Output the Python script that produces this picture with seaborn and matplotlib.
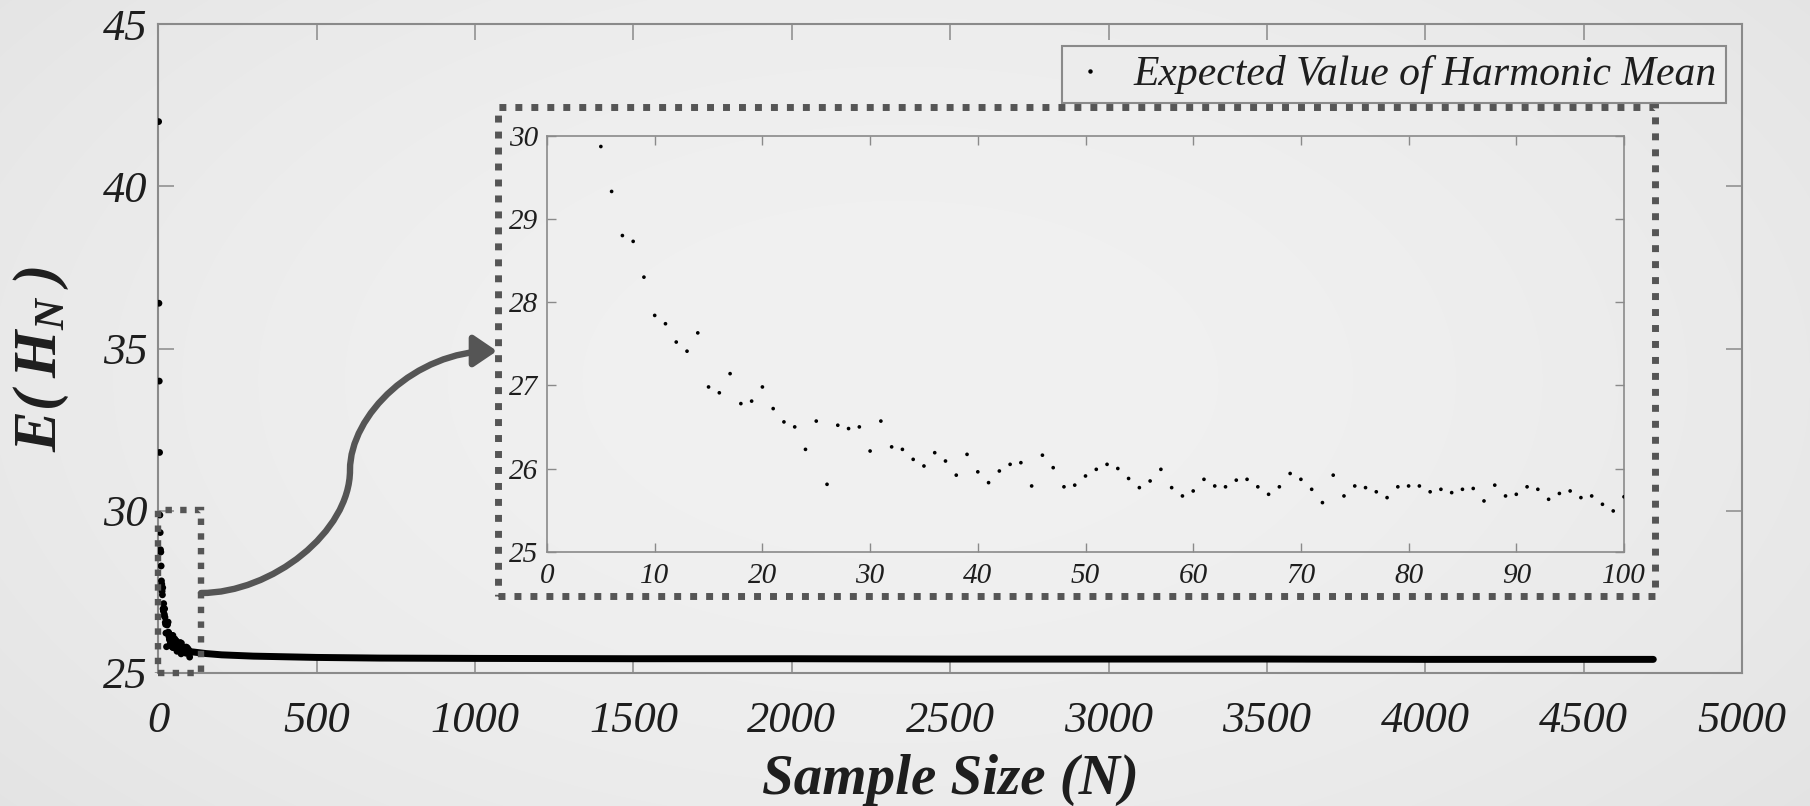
import numpy as np
import pandas as pd
import matplotlib
matplotlib.use("Agg")
import matplotlib.pyplot as plt
import seaborn as sns
from matplotlib.patches import Rectangle, FancyArrowPatch
from matplotlib.path import Path
from matplotlib.lines import Line2D

sns.set_theme(style="white")
plt.rcParams['font.family'] = ['Liberation Serif', 'DejaVu Serif']
plt.rcParams['font.style'] = 'italic'
plt.rcParams['mathtext.fontset'] = 'custom'
plt.rcParams['mathtext.rm'] = 'Liberation Serif:bold:italic'
plt.rcParams['mathtext.it'] = 'Liberation Serif:bold:italic'
plt.rcParams['mathtext.bf'] = 'Liberation Serif:bold:italic'

# ---------------- data ----------------
sample_n = list(range(1, 101))
expected_hm = [
    42.0, 36.4, 34.0, 31.8,
    29.87, 29.33, 28.80, 28.73, 28.30, 27.84, 27.74, 27.52, 27.41, 27.63,
    26.98, 26.91, 27.14, 26.78, 26.81, 26.98, 26.72, 26.56, 26.50, 26.23,
    26.57, 25.81, 26.52, 26.48, 26.50, 26.21, 26.57, 26.26, 26.23, 26.11,
    26.03, 26.19, 26.09, 25.92, 26.17, 25.96, 25.83, 25.97, 26.05, 26.07,
    25.79, 26.16, 26.01, 25.78, 25.80, 25.91, 25.99, 26.05, 26.00, 25.88,
    25.77, 25.85, 25.99, 25.77, 25.67, 25.73, 25.87, 25.79, 25.78, 25.86,
    25.87, 25.78, 25.69, 25.78, 25.94, 25.87, 25.75, 25.59, 25.92, 25.67,
    25.79, 25.77, 25.72, 25.65, 25.78, 25.79, 25.79, 25.72, 25.75, 25.71,
    25.75, 25.76, 25.61, 25.80, 25.67, 25.69, 25.78, 25.75, 25.63, 25.70,
    25.73, 25.65, 25.67, 25.57, 25.49, 25.66,
]
tail_n = [100, 150, 200, 300, 400, 500, 700, 1000, 1500, 2000, 2500, 3000, 3500, 4000, 4500, 4720]
tail_hm = [25.66, 25.60, 25.56, 25.52, 25.50, 25.48, 25.46, 25.45, 25.44, 25.44,
           25.43, 25.43, 25.43, 25.42, 25.42, 25.42]

main_xticks = list(range(0, 5001, 500))
main_yticks = [25, 30, 35, 40, 45]
inset_xticks = list(range(0, 101, 10))
inset_yticks = [25, 26, 27, 28, 29, 30]
legend_label = "Expected Value of Harmonic Mean"

df_small = pd.DataFrame({"N": sample_n, "E": expected_hm})
df_tail = pd.DataFrame({"N": tail_n, "E": tail_hm})

# ---------------- figure ----------------
W, H = 1810, 806
fig = plt.figure(figsize=(W / 100, H / 100), dpi=100)

# soft vignette background
yy, xx = np.mgrid[0:H, 0:W]
r2 = ((xx - 900) / 1150.0) ** 2 + ((yy - 380) / 650.0) ** 2
val = np.clip(0.945 - 0.05 * r2, 0, 1)
bg = np.dstack([val, val, val])
fig.figimage(bg, xo=0, yo=0, zorder=-10, origin='upper')

def fig_rect(l, t, r, b):
    return [l / W, 1 - b / H, (r - l) / W, (b - t) / H]

spine_col = '#8a8a8a'
txt_col = '#1e1e1e'

ax = fig.add_axes(fig_rect(158.3, 24.3, 1742, 673))
ax.set_facecolor('none')
sns.lineplot(data=df_tail, x="N", y="E", ax=ax, color='black', lw=5.0,
             errorbar=None, zorder=3)
sns.scatterplot(data=df_small, x="N", y="E", ax=ax, color='black', s=24,
                edgecolor='none', marker='o', zorder=4)
ax.set_xlim(0, 5000)
ax.set_ylim(25, 45)
ax.set_xticks(main_xticks)
ax.set_yticks(main_yticks)
ax.tick_params(direction='in', length=11.5, width=1.1, color=spine_col,
               labelsize=32, labelcolor=txt_col, top=True, right=True,
               bottom=True, left=True)
ax.tick_params(axis='x', pad=20)
ax.tick_params(axis='y', pad=8)
for s in ax.spines.values():
    s.set_color(spine_col)
    s.set_linewidth(1.5)
    s.set_visible(True)
ax.set_xlabel("Sample Size (N)", fontsize=41, fontweight='bold', color=txt_col)
ax.set_ylabel(r"$E(\;H_{N}\;)$", fontsize=44, color=txt_col)
ax.xaxis.set_label_coords(0.5, -0.125)
ax.yaxis.set_label_coords(-0.055, 0.485)

handles = [Line2D([], [], ls='', marker='o', ms=3.2, color='black', mec='none')]
leg = ax.legend(handles=handles, labels=[legend_label], loc='upper right',
                bbox_to_anchor=((1726 - 158.3) / 1583.7, 1 - (46 - 24.3) / 648.7),
                borderaxespad=0, fancybox=False, frameon=True,
                prop={'family': 'Liberation Serif', 'style': 'italic', 'size': 30},
                borderpad=0.22, handlelength=0.9, handletextpad=0.6)
leg.get_frame().set_edgecolor('#8a8a8a')
leg.get_frame().set_linewidth(1.5)
leg.get_frame().set_facecolor('#ececec')
leg.get_frame().set_alpha(1)
for t in leg.get_texts():
    t.set_color(txt_col)

# small dotted box around the zoomed region
box_small = Rectangle((0, 25), 135, 5.03, transform=ax.transData, fill=False,
                      ec='#555555', lw=4.6, ls=(0, (1, 1.3)), clip_on=False, zorder=5)
ax.add_patch(box_small)

# ---------------- inset ----------------
axi = fig.add_axes(fig_rect(547, 135.7, 1624, 551.7))
axi.set_facecolor('none')
sns.scatterplot(data=df_small, x="N", y="E", ax=axi, color='black', s=7,
                edgecolor='none', marker='o', zorder=4)
axi.set_xlim(0, 100)
axi.set_ylim(25, 30)
axi.set_xticks(inset_xticks)
axi.set_yticks(inset_yticks)
axi.tick_params(direction='in', length=6.5, width=1.0, color=spine_col,
                labelsize=21, labelcolor=txt_col, top=True, right=True,
                bottom=True, left=True)
axi.tick_params(axis='x', pad=8)
axi.tick_params(axis='y', pad=6)
axi.set_xlabel("")
axi.set_ylabel("")
for s in axi.spines.values():
    s.set_color(spine_col)
    s.set_linewidth(1.2)
    s.set_visible(True)

# dotted frame around inset
box_big = Rectangle((498 / W, 1 - 595.7 / H), (1655 - 498) / W, (595.7 - 106.7) / H,
                    transform=fig.transFigure, fill=False, ec='#555555', lw=5.0,
                    ls=(0, (1, 1.3)), zorder=6)
fig.add_artist(box_big)

# curved connector arrow
pts_px = [(201, 593), (272, 593), (350, 532), (350, 470),
          (350, 415), (415, 351), (497, 351)]
verts = [(x / W, 1 - y / H) for x, y in pts_px]
codes = [Path.MOVETO, Path.CURVE4, Path.CURVE4, Path.CURVE4,
         Path.CURVE4, Path.CURVE4, Path.CURVE4]
arrow = FancyArrowPatch(path=Path(verts, codes), transform=fig.transFigure,
                        arrowstyle='-|>,head_length=1.4,head_width=0.95',
                        mutation_scale=10, lw=4.6, color='#555555', zorder=6)
fig.add_artist(arrow)

fig.savefig("out.png", dpi=100)
